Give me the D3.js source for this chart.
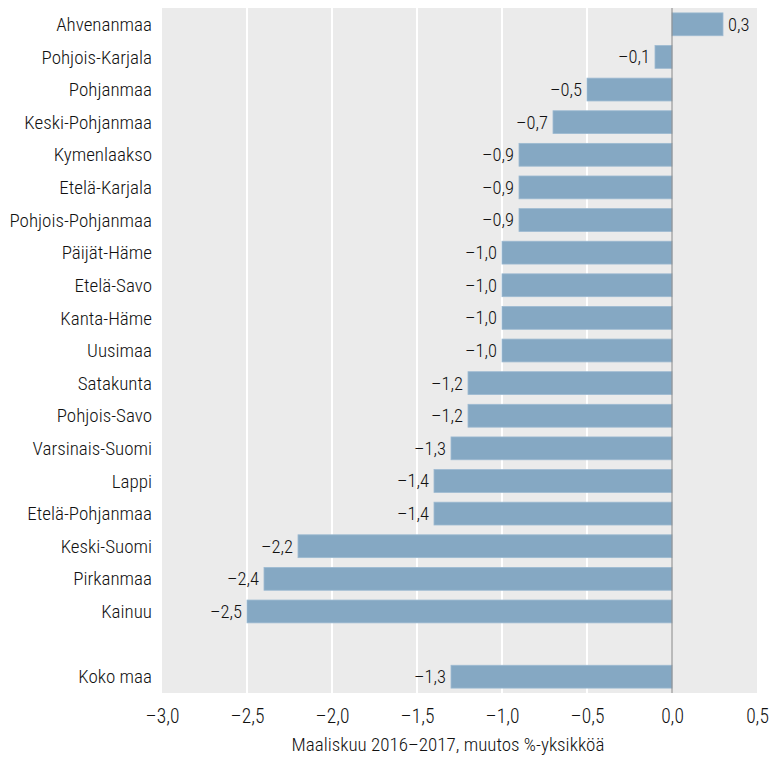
<!DOCTYPE html>
<html><head><meta charset="utf-8">
<script src="https://cdn.jsdelivr.net/npm/d3@7"></script>
<style>
body{margin:0;background:#fff;}
text{font-family:"Roboto Condensed","Liberation Sans Narrow",Arial,sans-serif;font-weight:300;fill:#111;}
</style></head>
<body><svg id="c" width="776" height="758"></svg>
<script>
const regions = ["Ahvenanmaa","Pohjois-Karjala","Pohjanmaa","Keski-Pohjanmaa","Kymenlaakso","Etelä-Karjala","Pohjois-Pohjanmaa","Päijät-Häme","Etelä-Savo","Kanta-Häme","Uusimaa","Satakunta","Pohjois-Savo","Varsinais-Suomi","Lappi","Etelä-Pohjanmaa","Keski-Suomi","Pirkanmaa","Kainuu","","Koko maa"];
const values = [0.3,-0.1,-0.5,-0.7,-0.9,-0.9,-0.9,-1.0,-1.0,-1.0,-1.0,-1.2,-1.2,-1.3,-1.4,-1.4,-2.2,-2.4,-2.5,null,-1.3];
const xTicks = [-3.0,-2.5,-2.0,-1.5,-1.0,-0.5,0.0,0.5];
const axisTitle = "Maaliskuu 2016–2017, muutos %-yksikköä";

const fmt = v => v.toFixed(1).replace(".", ",").replace("-", "–");
const svg = d3.select("#c");
const L = 162, R = 757, T = 8, B = 693;
const x = d3.scaleLinear().domain([-3, 0.5]).range([L, R]);
const y = d3.scaleBand().domain(d3.range(regions.length)).range([T, B]).paddingInner(0.3).paddingOuter(0.15);

svg.append("rect").attr("x", L).attr("y", T).attr("width", R - L).attr("height", B - T).attr("fill", "#ebebeb");
svg.append("g").selectAll("line").data(xTicks.filter(t => t !== 0 && t !== -3 && t !== 0.5)).join("line")
  .attr("x1", d => x(d)).attr("x2", d => x(d)).attr("y1", T).attr("y2", B)
  .attr("stroke", "#fff").attr("stroke-width", 2);

const data = regions.map((r, i) => ({r, v: values[i], i}));
const bars = data.filter(d => d.v !== null);
svg.append("g").selectAll("rect").data(bars).join("rect")
  .attr("x", d => x(Math.min(0, d.v))).attr("width", d => Math.abs(x(d.v) - x(0)))
  .attr("y", d => y(d.i)).attr("height", y.bandwidth())
  .attr("fill", "#85a8c3").attr("stroke", "#9dbad1").attr("stroke-width", 0.8);

svg.append("line").attr("x1", x(0)).attr("x2", x(0)).attr("y1", T).attr("y2", B).attr("stroke", "#888").attr("stroke-width", 1);

svg.append("g").selectAll("text").data(bars).join("text")
  .attr("x", d => d.v < 0 ? x(d.v) - 5 : x(d.v) + 5)
  .attr("y", d => y(d.i) + y.bandwidth() / 2).attr("dy", "0.35em")
  .attr("text-anchor", d => d.v < 0 ? "end" : "start")
  .attr("font-size", 18.5).text(d => fmt(d.v));

svg.append("g").selectAll("text").data(data.filter(d => d.r)).join("text")
  .attr("x", 152).attr("y", d => y(d.i) + y.bandwidth() / 2).attr("dy", "0.35em")
  .attr("text-anchor", "end").attr("font-size", 19).text(d => d.r);

const ax = svg.append("g").attr("transform", `translate(0,${B})`)
  .call(d3.axisBottom(x).tickValues(xTicks).tickSize(0).tickPadding(16).tickFormat(fmt));
ax.select(".domain").remove();
ax.selectAll("text").attr("font-size", 19.5).attr("fill", "#111").style("font-family", '"Roboto Condensed","Liberation Sans Narrow",Arial,sans-serif').style("font-weight", 300);

svg.append("text").attr("x", 448).attr("y", 751).attr("text-anchor", "middle").attr("font-size", 19).text(axisTitle);
</script></body></html>
